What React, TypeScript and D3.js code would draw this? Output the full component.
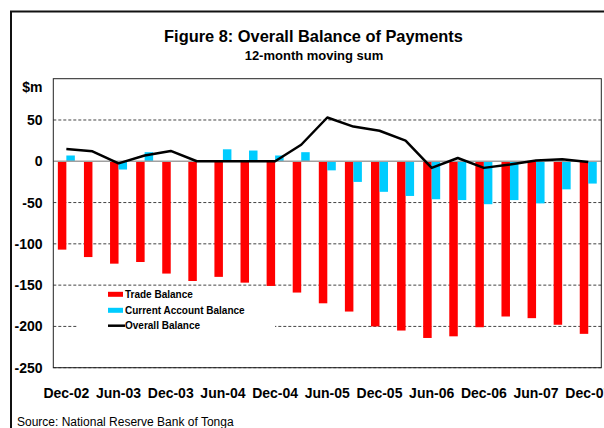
import React from "react";
import * as d3 from "d3";

const categories = [
  "Dec-02", "Mar-03", "Jun-03", "Sep-03", "Dec-03", "Mar-04", "Jun-04", "Sep-04",
  "Dec-04", "Mar-05", "Jun-05", "Sep-05", "Dec-05", "Mar-06", "Jun-06", "Sep-06",
  "Dec-06", "Mar-07", "Jun-07", "Sep-07", "Dec-07",
];
const tradeBalance = [
  -107, -116, -124, -122, -136, -145, -140, -147, -151, -159, -172,
  -182, -200, -205, -214, -212, -201, -188, -190, -198, -209,
];
const currentAccount = [
  7, 0, -10, 11, 0, 0, 14.5, 13, 7, 11, -11,
  -25, -37, -42, -46, -47, -52, -47, -51, -34, -27,
];
const overallBalance = [
  15, 12, -2.5, 7, 12.5, 0, 0, 0, 0, 20, 53,
  42, 37, 25, -8, 4, -8, -4, 1, 2.5, -1,
];
const yTicks = [50, 0, -50, -100, -150, -200, -250];
const gridTicks = [50, -50, -100, -150, -200, -250];
const legendItems = ["Trade Balance", "Current Account Balance", "Overall Balance"];

const W = 604;
const H = 428;
const FONT = "'Liberation Sans', Arial, sans-serif";

export default function App() {
  const left = 53.3;
  const right = 601.3;
  const top = 78.7;
  const bottom = 367.7;

  const x = d3.scaleBand<string>().domain(categories).range([left, right]).padding(0);
  const y = d3.scaleLinear().domain([-250, 100]).range([bottom, top]);
  const bw = 8.5;
  const cx = (c: string) => (x(c) as number) + x.bandwidth() / 2;

  const line = d3
    .line<number>()
    .x((_, i) => cx(categories[i]))
    .y((d) => y(d));

  const legendX = 108;
  const legendRows = [294.3, 310.3, 325.7];

  return (
    <svg
      width={W}
      height={H}
      style={{ position: "absolute", left: 0, top: 0, background: "#fff" }}
      fontFamily={FONT}
    >
      <rect x={0} y={0} width={W} height={H} fill="#fff" />
      {/* outer frame */}
      <rect x={11} y={11.5} width={620} height={440} fill="none" stroke="#111" strokeWidth={2} />

      {/* title */}
      <text x={313.5} y={42} textAnchor="middle" fontSize={16.4} fontWeight="bold" fill="#000">
        Figure 8: Overall Balance of Payments
      </text>
      <text x={314} y={60} textAnchor="middle" fontSize={13} fontWeight="bold" fill="#000">
        12-month moving sum
      </text>

      {/* gridlines */}
      {gridTicks.map((t) => (
        <line
          key={t}
          x1={left}
          x2={right}
          y1={y(t)}
          y2={y(t)}
          stroke="#444"
          strokeWidth={1}
          strokeDasharray="3,2"
        />
      ))}

      {/* bars */}
      {categories.map((c, i) => (
        <g key={c}>
          <rect
            x={cx(c) - bw}
            y={y(Math.max(0, tradeBalance[i]))}
            width={bw}
            height={Math.abs(y(tradeBalance[i]) - y(0))}
            fill="#FF0000"
          />
          <rect
            x={cx(c)}
            y={y(Math.max(0, currentAccount[i]))}
            width={bw}
            height={Math.abs(y(currentAccount[i]) - y(0))}
            fill="#00CCFF"
          />
        </g>
      ))}

      {/* zero line */}
      <line x1={left} x2={right} y1={y(0)} y2={y(0)} stroke="#A0A0A0" strokeWidth={1.5} />

      {/* overall balance line */}
      <path d={line(overallBalance) as string} fill="none" stroke="#000" strokeWidth={2.5} strokeLinejoin="round" />

      {/* plot frame */}
      <rect x={left} y={top} width={right - left} height={bottom - top} fill="none" stroke="#222" strokeWidth={1} />

      {/* legend */}
      <rect x={77} y={287.5} width={198} height={47} fill="#fff" />
      <rect x={legendX} y={legendRows[0] - 2.5} width={15} height={5} fill="#FF0000" />
      <rect x={legendX} y={legendRows[1] - 2.5} width={15} height={5} fill="#00CCFF" />
      <line x1={legendX} x2={legendX + 17} y1={legendRows[2]} y2={legendRows[2]} stroke="#000" strokeWidth={2.5} />
      {legendItems.map((t, i) => (
        <text key={t} x={125} y={legendRows[i] + 3.5} fontSize={10} fontWeight="bold" fill="#000">
          {t}
        </text>
      ))}

      {/* y axis labels */}
      <text x={42.5} y={91.5} textAnchor="end" fontSize={14} fontWeight="bold" fill="#000">
        $m
      </text>
      {yTicks.map((t) => (
        <text key={t} x={42.5} y={y(t) + 5} textAnchor="end" fontSize={14} fontWeight="bold" fill="#000">
          {t}
        </text>
      ))}

      {/* x axis labels */}
      {categories.map((c, i) =>
        i % 2 === 0 ? (
          <text key={c} x={cx(c)} y={397.5} textAnchor="middle" fontSize={14} fontWeight="bold" fill="#000">
            {c}
          </text>
        ) : null
      )}

      {/* source */}
      <text x={17} y={425.5} fontSize={12} fill="#000">
        Source: National Reserve Bank of Tonga
      </text>
    </svg>
  );
}
